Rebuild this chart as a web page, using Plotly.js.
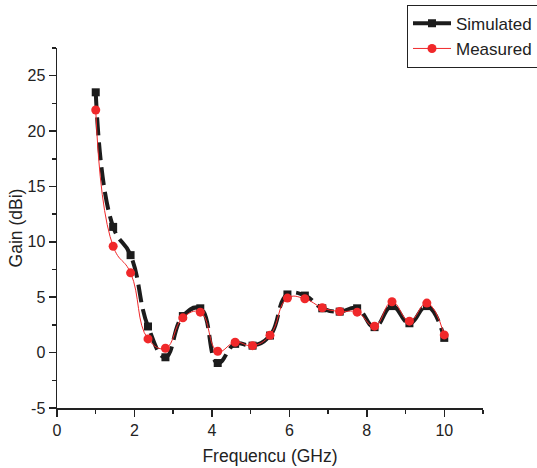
<!DOCTYPE html>
<html>
<head>
<meta charset="utf-8">
<script src="https://cdn.plot.ly/plotly-3.0.1.min.js"></script>
<style>
  html, body { margin: 0; padding: 0; background: #fff; }
  #chart { width: 537px; height: 468px; }
</style>
</head>
<body>
<div id="chart"></div>
<script>
// Frequency (GHz)
const frequency = [1.0, 1.45, 1.9, 2.35, 2.8, 3.25, 3.7, 4.15, 4.6, 5.05, 5.5, 5.95, 6.4, 6.85, 7.3, 7.75, 8.2, 8.65, 9.1, 9.55, 10.0];
// Gain (dBi)
const simulated = [23.5, 11.35, 8.8, 2.36, -0.42, 3.3, 4.0, -0.94, 0.79, 0.63, 1.54, 5.25, 5.15, 4.0, 3.7, 4.0, 2.3, 4.2, 2.65, 4.2, 1.33];
const measured = [21.9, 9.6, 7.2, 1.24, 0.39, 3.14, 3.65, 0.12, 0.94, 0.63, 1.57, 4.92, 4.86, 4.05, 3.71, 3.65, 2.39, 4.59, 2.84, 4.47, 1.6];
const seriesNames = ["Simulated", "Measured"];
const xTickVals = [0, 2, 4, 6, 8, 10];
const yTickVals = [-5, 0, 5, 10, 15, 20, 25];
const yTickText = ["-5", "0", "5", "10", "15", "20", "25"];

const FONT = "Liberation Sans, Arial, sans-serif";
const BLACK = "#1c1c1c";
const RED = "#f0282a";
const INK = "#222";

const traces = [
  {
    x: frequency, y: simulated, type: "scatter", mode: "lines+markers",
    line: { color: BLACK, width: 4, dash: "18px,7px", shape: "spline", smoothing: 1.3 },
    marker: { symbol: "square", size: 8, color: BLACK },
    showlegend: false
  },
  {
    x: frequency, y: measured, type: "scatter", mode: "lines+markers",
    line: { color: RED, width: 1, shape: "spline", smoothing: 1.3 },
    marker: { symbol: "circle", size: 9, color: RED },
    showlegend: false
  },
  // legend entries (solid samples as in the reference legend)
  {
    x: [null], y: [null], type: "scatter", mode: "lines+markers", name: seriesNames[0],
    line: { color: BLACK, width: 4 },
    marker: { symbol: "square", size: 8, color: BLACK }
  },
  {
    x: [null], y: [null], type: "scatter", mode: "lines+markers", name: seriesNames[1],
    line: { color: RED, width: 1 },
    marker: { symbol: "circle", size: 9, color: RED }
  }
];

const layout = {
  width: 537, height: 468,
  margin: { l: 57, r: 54, t: 48, b: 60, autoexpand: false },
  paper_bgcolor: "#fff", plot_bgcolor: "#fff",
  font: { family: FONT, color: INK, size: 16 },
  xaxis: {
    range: [0, 11], tickmode: "array", tickvals: xTickVals,
    ticks: "outside", ticklen: 7, tickwidth: 1.5, tickcolor: INK,
    minor: { tickvals: [1, 3, 5, 7, 9, 11], ticks: "outside", ticklen: 4, tickwidth: 1.5, tickcolor: INK },
    showline: true, linecolor: INK, linewidth: 1.5,
    showgrid: false, zeroline: false, automargin: false,
    tickfont: { size: 16, family: FONT, color: INK },
    title: { text: "Frequencu (GHz)", font: { size: 17.5, family: FONT, color: INK }, standoff: 12 }
  },
  yaxis: {
    range: [-5, 27.5], tickmode: "array", tickvals: yTickVals, ticktext: yTickText,
    ticks: "outside", ticklen: 7, tickwidth: 1.5, tickcolor: INK,
    minor: { tickvals: [-2.5, 2.5, 7.5, 12.5, 17.5, 22.5, 27.5], ticks: "outside", ticklen: 4, tickwidth: 1.5, tickcolor: INK },
    showline: true, linecolor: INK, linewidth: 1.5,
    showgrid: false, zeroline: false, automargin: false,
    tickfont: { size: 16, family: FONT, color: INK },
    title: { text: "Gain (dBi)", font: { size: 17.5, family: FONT, color: INK }, standoff: 0 }
  },
  legend: {
    x: 0.8216, y: 1.12, xanchor: "left", yanchor: "top",
    bordercolor: INK, borderwidth: 1, bgcolor: "#fff",
    font: { size: 17, family: FONT, color: INK },
    itemwidth: 38, tracegroupgap: 0
  },
  showlegend: true
};

Plotly.newPlot("chart", traces, layout, { displayModeBar: false, staticPlot: true });
</script>
</body>
</html>
